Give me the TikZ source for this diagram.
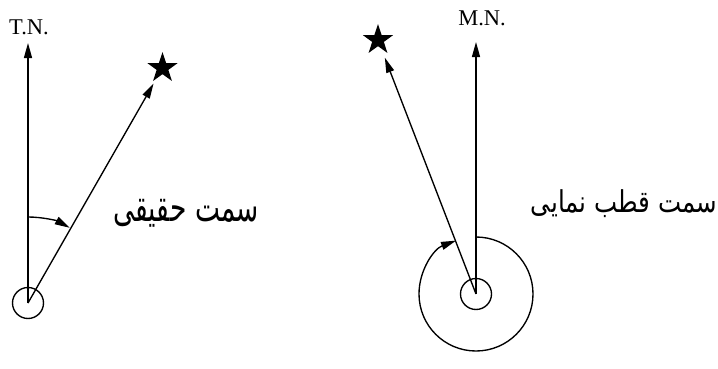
\documentclass[tikz,border=0pt]{standalone}
\usepackage{graphicx}
\usepackage{fontspec}
\setmainfont{Liberation Serif}
\newfontfamily\arabicfont[Script=Arabic]{DejaVu Sans}
\TeXXeTstate=1
\usetikzlibrary{shapes.geometric,arrows.meta}
\begin{document}
\begin{tikzpicture}[x=1pt,y=1pt,
  line width=1.35pt,
  tip/.style={-{Triangle[length=15pt,width=8pt]}},
  hub/.style={circle,draw,minimum size=31pt,inner sep=0pt},
  starmark/.style={star,star points=5,star point ratio=2.6,fill=black,minimum size=32pt,inner sep=0pt},
  lbl/.style={font=\fontsize{22.5}{25}\selectfont,inner sep=0pt},
  fa/.style={inner sep=0pt}]
\useasboundingbox (0,0) rectangle (718,368);
% left diagram
\coordinate (c1) at (28,65);
\node[hub] (h1) at (c1) {};
\coordinate (n1) at (28,325);
\node[lbl] (tn) at (29,341) {T.N.};
\node[starmark] (s1) at (162.5,300) {};
\draw[tip] (c1) -- (n1);
\draw[tip,shorten >=18pt] (c1) -- (s1.center);
\draw[tip] ([shift={(90:86)}]c1) arc[start angle=90,end angle=61,radius=86];
\node[fa] (t1) at (186,155) {\resizebox*{145pt}{28pt}{\arabicfont\beginR سمت حقیقی\endR}};
% right diagram
\coordinate (c2) at (476,74);
\node[hub] (h2) at (c2) {};
\coordinate (n2) at (476,326);
\node[lbl] (mn) at (482,350) {M.N.};
\node[starmark] (s2) at (378,328) {};
\draw[tip] (c2) -- (n2);
\draw[tip,shorten >=19pt] (c2) -- (s2.center);
\draw[tip] ([shift={(90:57)}]c2) arc[start angle=90,end angle=-249.5,radius=57];
\node[fa] (t2) at (624,164) {\resizebox*{186pt}{28pt}{\arabicfont\beginR سمت قطب نمایی\endR}};
\end{tikzpicture}
\end{document}
